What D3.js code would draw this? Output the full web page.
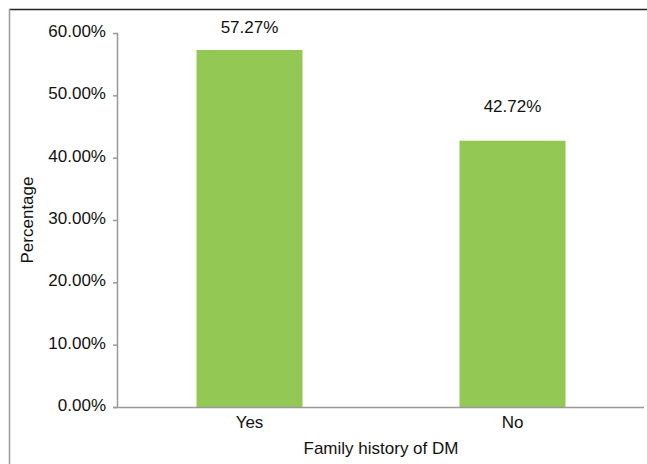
<!DOCTYPE html>
<html>
<head>
<meta charset="utf-8">
<script src="https://cdn.jsdelivr.net/npm/d3@7"></script>
<style>
  html, body { margin: 0; padding: 0; background: #fff; }
  svg { display: block; font-family: "Liberation Sans", Arial, sans-serif; }
</style>
</head>
<body>
<svg id="chart" width="647" height="464"></svg>
<script>
const categories = ["Yes", "No"];
const values = [57.27, 42.72];
const valueLabels = ["57.27%", "42.72%"];
const yTicks = [0, 10, 20, 30, 40, 50, 60];
const xTitle = "Family history of DM";
const yTitle = "Percentage";

const svg = d3.select("#chart");
const W = 647, H = 464;
const mLeft = 118, mRight = 644, mTop = 33, mBottom = 407;
const FS = 17;
// layout: gap between bar top and its value label baseline
const labelGap = [17, 29];

// frame
svg.append("line").attr("x1", 9).attr("x2", W).attr("y1", 9.5).attr("y2", 9.5)
  .attr("stroke", "#222").attr("stroke-width", 1.5);
svg.append("line").attr("x1", 9.5).attr("x2", 9.5).attr("y1", 9).attr("y2", H)
  .attr("stroke", "#999").attr("stroke-width", 1.5);

const x = d3.scaleBand().domain(categories).range([mLeft, mRight]).paddingInner(0.597).paddingOuter(0.2985);
const y = d3.scaleLinear().domain([0, 60]).range([mBottom, mTop]);

// bars
svg.selectAll("rect.bar").data(values).join("rect")
  .attr("class", "bar")
  .attr("x", (d, i) => x(categories[i]))
  .attr("width", x.bandwidth())
  .attr("y", d => y(d))
  .attr("height", d => y(0) - y(d))
  .attr("fill", "#92c853");

// value labels
svg.selectAll("text.val").data(values).join("text")
  .attr("class", "val")
  .attr("x", (d, i) => x(categories[i]) + x.bandwidth() / 2)
  .attr("y", (d, i) => y(d) - labelGap[i])
  .attr("text-anchor", "middle")
  .attr("font-size", FS)
  .attr("fill", "#111")
  .text((d, i) => valueLabels[i]);

// y axis
const yAxis = svg.append("g").attr("transform", `translate(${mLeft},0)`)
  .call(d3.axisLeft(y).tickValues(yTicks).tickSize(5).tickPadding(7)
    .tickFormat(d => d3.format(".2f")(d) + "%"));
yAxis.select(".domain").attr("stroke", "#999").attr("stroke-width", 1.5).attr("d", `M-0.5,${mTop}V${mBottom}`);
yAxis.selectAll(".tick line").attr("stroke", "#999").attr("stroke-width", 1.5);
yAxis.selectAll(".tick text").attr("font-size", FS).attr("fill", "#111")
  .attr("font-family", "Liberation Sans, Arial, sans-serif").attr("dy", "0.2em");

// x axis
const xAxis = svg.append("g").attr("transform", `translate(0,${mBottom})`)
  .call(d3.axisBottom(x).tickSize(0).tickPadding(9));
xAxis.select(".domain").attr("stroke", "#999").attr("stroke-width", 1.5).attr("d", `M113,0.5H${mRight}`);
xAxis.selectAll(".tick text").attr("font-size", FS).attr("fill", "#111")
  .attr("font-family", "Liberation Sans, Arial, sans-serif");

// titles
svg.append("text").attr("x", (mLeft + mRight) / 2).attr("y", 454)
  .attr("text-anchor", "middle").attr("font-size", FS).attr("fill", "#111").text(xTitle);
svg.append("text").attr("transform", `translate(33,${(mTop + mBottom) / 2}) rotate(-90)`)
  .attr("text-anchor", "middle").attr("font-size", FS).attr("fill", "#111").text(yTitle);
</script>
</body>
</html>
